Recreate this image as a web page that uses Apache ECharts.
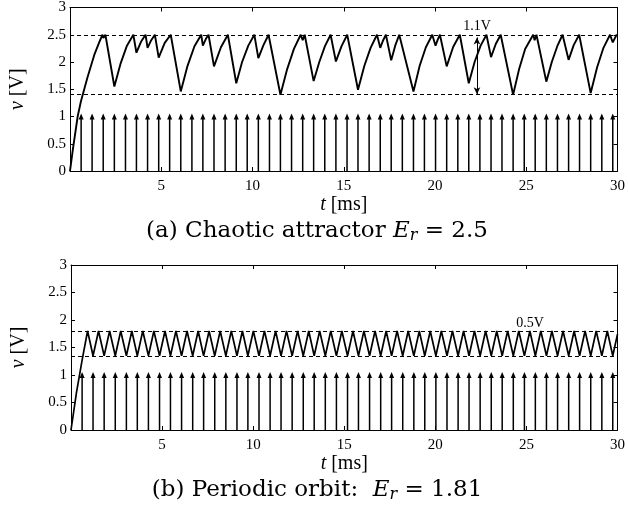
<!DOCTYPE html>
<html>
<head>
<meta charset="utf-8">
<script src="https://cdn.jsdelivr.net/npm/echarts/dist/echarts.min.js"></script>
<style>
  html, body { margin: 0; padding: 0; background: #fff; }
  #chart { width: 628px; height: 515px; }
</style>
</head>
<body>
<div id="chart"></div>
<script>
// clock pulse times [ms] (same in both panels)
const clockTimes = [0.61, 1.21, 1.82, 2.43, 3.04, 3.64, 4.25, 4.86, 5.46, 6.07,
  6.68, 7.28, 7.89, 8.5, 9.11, 9.71, 10.32, 10.93, 11.53, 12.14,
  12.75, 13.35, 13.96, 14.57, 15.18, 15.78, 16.39, 17.0, 17.6, 18.21,
  18.82, 19.42, 20.03, 20.64, 21.25, 21.85, 22.46, 23.07, 23.67, 24.28,
  24.89, 25.49, 26.1, 26.71, 27.32, 27.92, 28.53, 29.14, 29.74];
const clockHeight = 1;

// (a) chaotic attractor waveform
const chaosT = [0, 0.15, 0.42, 0.6, 0.96, 1.33, 1.6, 1.78, 1.83, 1.94,
  2.43, 2.78, 3.12, 3.47, 3.64, 3.89, 4.14, 4.25, 4.45, 4.65,
  4.86, 5.19, 5.52, 6.07, 6.44, 6.82, 7.19, 7.28, 7.44, 7.59,
  7.89, 8.27, 8.65, 9.11, 9.43, 9.77, 10.1, 10.32, 10.6, 10.88,
  11.53, 11.9, 12.27, 12.64, 12.75, 12.86, 13.35, 13.66, 13.97, 14.28,
  14.57, 14.88, 15.19, 15.78, 16.13, 16.47, 16.82, 17.0, 17.16, 17.31,
  17.6, 17.82, 18.04, 18.82, 19.16, 19.5, 19.85, 20.03, 20.15, 20.27,
  20.64, 21.0, 21.36, 21.85, 22.17, 22.5, 22.82, 23.07, 23.33, 23.6,
  24.28, 24.61, 24.94, 25.38, 25.46, 25.56, 26.1, 26.4, 26.7, 26.99,
  27.32, 27.6, 27.9, 28.53, 28.88, 29.23, 29.59, 29.74, 29.95, 30];
const chaosV = [0, 0.38, 1.0, 1.28, 1.72, 2.13, 2.36, 2.5, 2.44, 2.5,
  1.55, 1.98, 2.3, 2.5, 2.17, 2.37, 2.5, 2.26, 2.4, 2.5,
  2.08, 2.35, 2.5, 1.46, 1.93, 2.29, 2.5, 2.3, 2.42, 2.5,
  1.92, 2.27, 2.5, 1.61, 2.0, 2.3, 2.5, 2.07, 2.31, 2.5,
  1.4, 1.87, 2.24, 2.5, 2.4, 2.5, 1.65, 2.0, 2.29, 2.5,
  2.01, 2.29, 2.5, 1.49, 1.93, 2.26, 2.5, 2.26, 2.4, 2.5,
  2.03, 2.3, 2.5, 1.46, 1.93, 2.27, 2.5, 2.3, 2.41, 2.5,
  1.92, 2.28, 2.5, 1.61, 2.0, 2.3, 2.5, 2.09, 2.33, 2.5,
  1.4, 1.87, 2.24, 2.5, 2.4, 2.5, 1.64, 2.0, 2.29, 2.5,
  2.04, 2.31, 2.5, 1.43, 1.9, 2.26, 2.5, 2.36, 2.5, 2.48];
const chaosLevels = [2.5, 1.4];
const chaosSpan = { t: 22.3, top: 2.45, bottom: 1.41, text: '1.1V' };

// (b) periodic orbit waveform
const orbitStartT = [0, 0.3, 0.61];
const orbitStartV = [0, 0.68, 1.27];
const orbitPeakTimes = [0.91, 1.51, 2.12, 2.73, 3.34, 3.94, 4.55, 5.16, 5.76, 6.37,
  6.98, 7.58, 8.19, 8.8, 9.41, 10.01, 10.62, 11.23, 11.83, 12.44,
  13.05, 13.65, 14.26, 14.87, 15.48, 16.08, 16.69, 17.3, 17.9, 18.51,
  19.12, 19.72, 20.33, 20.94, 21.55, 22.15, 22.76, 23.37, 23.97, 24.58,
  25.19, 25.79, 26.4, 27.01, 27.62, 28.22, 28.83, 29.44];
const orbitHigh = 1.8;
const orbitLow = 1.35;
const orbitEnd = [30, 1.74];
const orbitSpan = { t: 25.2, v: 1.8, text: '0.5V' };

const xTickLabels = ['', '5', '10', '15', '20', '25', '30'];
const captions = [
  '(a) Chaotic attractor {e|E}{s|r} = 2.5',
  '(b) Periodic orbit:  {e|E}{s|r} = 1.81'
];

const serif = 'Liberation Serif';
const capFont = 'DejaVu Serif';

const chaosData = chaosT.map((t, i) => [t, chaosV[i]]);
const orbitData = orbitStartT.map((t, i) => [t, orbitStartV[i]]);
orbitPeakTimes.forEach((t, i) => {
  orbitData.push([t, orbitHigh]);
  orbitData.push([clockTimes[i + 1], orbitLow]);
});
orbitData.push(orbitEnd);
const clockData = clockTimes.map(t => [t, clockHeight]);

const grids = [
  { left: 69, top: 5, width: 550, height: 166 },
  { left: 71, top: 265, width: 550, height: 165 }
];

const boxLine = { onZero: false, lineStyle: { color: '#000', width: 1 } };
const inTick = { inside: true, length: 4, lineStyle: { color: '#000', width: 1 } };

const xAxes = [];
const yAxes = [];
grids.forEach((g, gi) => {
  xAxes.push({
    gridIndex: gi, type: 'value', min: 0, max: 30, interval: 5, position: 'bottom',
    axisLine: boxLine, axisTick: inTick, splitLine: { show: false },
    axisLabel: {
      color: '#000', fontFamily: serif, fontSize: 15, margin: 8,
      formatter: (v, idx) => xTickLabels[idx]
    },
    name: '{i|t} [ms]', nameLocation: 'middle', nameGap: 20,
    nameTextStyle: {
      color: '#000', fontFamily: serif, fontSize: 20,
      rich: { i: { fontFamily: serif, fontSize: 20, fontStyle: 'italic', color: '#000' } }
    }
  });
  xAxes.push({
    gridIndex: gi, type: 'value', min: 0, max: 30, interval: 5, position: 'top',
    axisLine: boxLine, axisTick: inTick, axisLabel: { show: false }, splitLine: { show: false }
  });
  yAxes.push({
    gridIndex: gi, type: 'value', min: 0, max: 3, interval: 0.5, position: 'left',
    axisLine: boxLine, axisTick: inTick, splitLine: { show: false },
    axisLabel: { color: '#000', fontFamily: serif, fontSize: 15, margin: 4 },
    name: '{i|v} [V]', nameLocation: 'middle', nameGap: 42, nameRotate: 90,
    nameTextStyle: {
      color: '#000', fontFamily: serif, fontSize: 20,
      rich: { i: { fontFamily: serif, fontSize: 20, fontStyle: 'italic', color: '#000' } }
    }
  });
  yAxes.push({
    gridIndex: gi, type: 'value', min: 0, max: 3, interval: 0.5, position: 'right',
    axisLine: boxLine, axisTick: inTick, axisLabel: { show: false }, splitLine: { show: false }
  });
});

function clockSeries(gi) {
  return {
    type: 'custom', xAxisIndex: gi * 2, yAxisIndex: gi * 2, data: clockData, z: 3,
    renderItem: (params, api) => {
      const base = api.coord([api.value(0), 0]);
      const tip = api.coord([api.value(0), api.value(1)]);
      return {
        type: 'group',
        children: [
          { type: 'line', shape: { x1: base[0], y1: base[1], x2: tip[0], y2: tip[1] + 2 },
            style: { stroke: '#000', lineWidth: 1.5 } },
          { type: 'polygon', shape: { points: [[tip[0], tip[1] - 3], [tip[0] - 2.5, tip[1] + 3], [tip[0] + 2.5, tip[1] + 3]] },
            style: { fill: '#000' } }
        ]
      };
    }
  };
}

const dashed = { color: '#000', width: 1, type: [4, 3] };
const spanLabel = {
  show: true, position: 'top', distance: 1, color: '#000', fontFamily: serif, fontSize: 14
};

const chart = echarts.init(document.getElementById('chart'), null, { renderer: 'canvas' });
chart.setOption({
  animation: false,
  backgroundColor: '#fff',
  grid: grids,
  xAxis: xAxes,
  yAxis: yAxes,
  graphic: captions.map((c, i) => ({
    type: 'text', x: 317, y: i === 0 ? 231 : 490,
    style: {
      text: c, align: 'center', verticalAlign: 'middle', fill: '#000',
      font: '23px "' + capFont + '"',
      rich: {
        e: { fontFamily: capFont, fontSize: 23, fontStyle: 'italic', fill: '#000' },
        s: { fontFamily: capFont, fontSize: 16, fontStyle: 'italic', fill: '#000', padding: [9, 0, 0, 0] }
      }
    }
  })),
  series: [
    {
      type: 'line', xAxisIndex: 0, yAxisIndex: 0, data: chaosData,
      showSymbol: false, symbol: 'none', z: 4,
      lineStyle: { color: '#000', width: 1.9 },
      markLine: {
        silent: true, symbol: ['none', 'none'], label: { show: false },
        lineStyle: dashed,
        data: chaosLevels.map(v => ({ yAxis: v })).concat([[
          { coord: [chaosSpan.t, chaosSpan.top], symbol: 'arrow', symbolSize: [5, 7],
            lineStyle: { color: '#000', width: 1, type: 'solid' } },
          { coord: [chaosSpan.t, chaosSpan.bottom], symbol: 'arrow', symbolSize: [5, 7] }
        ]])
      },
      markPoint: {
        silent: true, symbol: 'circle', symbolSize: 0,
        label: Object.assign({ formatter: chaosSpan.text }, spanLabel),
        data: [{ coord: [chaosSpan.t, 2.5] }]
      }
    },
    clockSeries(0),
    {
      type: 'line', xAxisIndex: 2, yAxisIndex: 2, data: orbitData,
      showSymbol: false, symbol: 'none', z: 4,
      lineStyle: { color: '#000', width: 1.7 },
      markLine: {
        silent: true, symbol: ['none', 'none'], label: { show: false },
        lineStyle: dashed,
        data: [{ yAxis: orbitHigh }, { yAxis: orbitLow }]
      },
      markPoint: {
        silent: true, symbol: 'circle', symbolSize: 0,
        label: Object.assign({ formatter: orbitSpan.text }, spanLabel),
        data: [{ coord: [orbitSpan.t, orbitSpan.v] }]
      }
    },
    clockSeries(1)
  ]
});
</script>
</body>
</html>
